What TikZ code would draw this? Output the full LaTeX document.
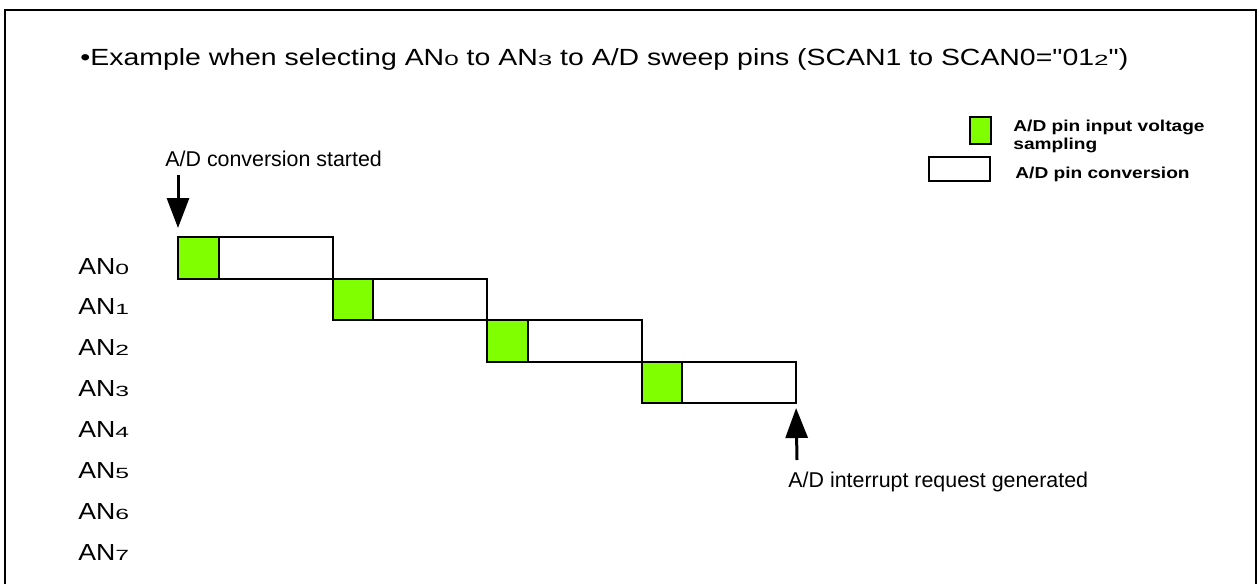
\documentclass[tikz,border=0pt]{standalone}
\usepackage{graphicx}
\usepackage{fontspec}
\setmainfont{Liberation Sans}[Ligatures=TeXOff]
\usetikzlibrary{arrows.meta}
\definecolor{adgreen}{RGB}{128,255,0}
\tikzset{
  sampbox/.style={draw,fill=adgreen,line width=1pt,inner sep=0,outer sep=0,minimum width=20.25pt,minimum height=20.75pt},
  convbox/.style={draw,fill=white,line width=1pt,inner sep=0,outer sep=0,minimum width=57pt,minimum height=20.75pt},
  adarrow/.style={line width=1.5pt,-{Triangle[width=11pt,length=15pt]}},
  txt/.style={inner sep=0,anchor=base west},
  lbl/.style={txt,font=\fontsize{10.7}{12}\selectfont},
  leg/.style={txt,font=\bfseries\fontsize{7.9}{9}\selectfont}
}
\newcommand{\sm}[1]{{\fontsize{7.4}{9}\selectfont\scalebox{1.45}[1]{#1}}}
\newcommand{\hs}[2]{\scalebox{#1}[1]{#2}}
\begin{document}
\begin{tikzpicture}[x=0.5pt,y=-0.5pt]
\useasboundingbox (0,0) rectangle (1259,584);
% frame
\draw[line width=1.2pt] (5,584)--(5,10)--(1256,10)--(1256,584);
\node[txt,font=\fontsize{11.7}{14}\selectfont] (title) at (80,65)
  {\hs{1.215}{\textbullet Example when selecting AN\sm{0} to AN\sm{3} to A/D sweep pins (SCAN1 to SCAN0="01\sm{2}")}};
% legend
\node[sampbox,anchor=north west,minimum width=10.5pt,minimum height=13.5pt] (legs) at (970,117) {};
\node[convbox,anchor=north west,minimum width=30.5pt,minimum height=12pt] (legc) at (929,157) {};
\node[leg] (legstxt) at (1013,131) {\hs{1.21}{A/D pin input voltage}};
\node[leg] (legstxtb) at (1013,149.5) {\hs{1.21}{sampling}};
\node[leg] (legctxt) at (1015,178.5) {\hs{1.21}{A/D pin conversion}};
% sweep
\foreach \i in {0,...,3}{
  \node[sampbox,anchor=north west] (s\i) at ({178+154.5*\i},{237+41.5*\i}) {};
  \node[convbox,anchor=west] (c\i) at (s\i.east) {};
}
\foreach \i in {0,...,7}
  \node[txt,font=\fontsize{11.6}{14}\selectfont] (an\i) at (78,{274+40.9*\i}) {\hs{1.15}{AN\sm{\i}}};
% arrows
\node[lbl] (start) at (165,166) {A/D conversion started};
\coordinate (starttail) at (178,175);
\draw[adarrow,shorten >=4.5pt] (starttail) -- (s0.north west);
\node[lbl] (irq) at (788,487) {A/D interrupt request generated};
\coordinate (irqtail) at (797,460);
\draw[adarrow,shorten >=2.5pt] (irqtail) -- (c3.south east);
\end{tikzpicture}
\end{document}
